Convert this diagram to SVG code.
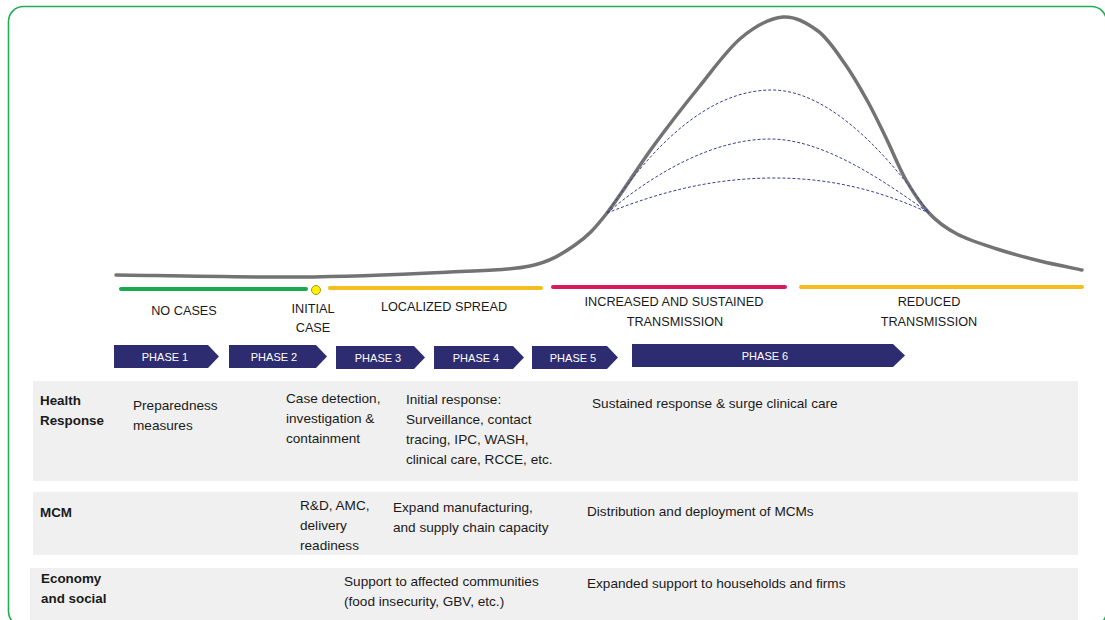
<svg xmlns="http://www.w3.org/2000/svg" width="1105" height="620" viewBox="0 0 1105 620">
<style>
.hdr{font-family:"Liberation Sans",Arial,sans-serif;font-size:12.7px;fill:#1a1a1a;text-anchor:middle}
.ph{font-family:"Liberation Sans",Arial,sans-serif;font-size:11px;fill:#ffffff;text-anchor:middle}
.body{font-family:"Liberation Sans",Arial,sans-serif;font-size:13.6px;fill:#1a1a1a}
.lbl{font-family:"Liberation Sans",Arial,sans-serif;font-size:13.4px;font-weight:bold;fill:#1a1a1a}
.arrow{fill:#2e2c70}
.row{fill:#f0f0f0}
.bar{stroke-width:4;stroke-linecap:round;fill:none}
.dash{fill:none;stroke:#3d3d8f;stroke-width:1;stroke-dasharray:3 2}
</style>
<rect x="8.5" y="6.5" width="1098" height="620" rx="15" fill="#ffffff" stroke="#22ad55" stroke-width="1.6"/>

<g id="rows">
<rect class="row" x="33" y="381" width="1045" height="100"/>
<rect class="row" x="33" y="492" width="1045" height="63"/>
<rect class="row" x="30" y="568" width="1048" height="60"/>
</g>

<g id="curves">
<path d="M116,275 C146.7,275.3 244.3,277.5 300,277 C355.7,276.5 411.7,273.8 450,272 C488.3,270.2 509.2,270.5 530,266 C550.8,261.5 562.2,253.8 575,245 C587.8,236.2 594.2,229.2 607,213 C619.8,196.8 636.7,169 652,148 C667.3,127 684.2,105.3 699,87 C713.8,68.7 727,49.7 741,38 C755,26.3 770.2,18.2 783,17 C795.8,15.8 807.7,23.2 818,31 C828.3,38.8 836.7,52.2 845,64 C853.3,75.8 861,89.3 868,102 C875,114.7 880.7,127 887,140 C893.3,153 899,167.8 906,180 C913,192.2 920.8,204 929,213 C937.2,222 945.7,228 957,234 C968.3,240 983.2,244.5 997,249 C1010.8,253.5 1025.8,257.5 1040,261 C1054.2,264.5 1075,268.5 1082,270" fill="none" stroke="#737373" stroke-width="3.5" stroke-linecap="round"/>
<path class="dash" d="M607,213 C670,120 725,90 772,90 C822,90 878,140 929,213"/>
<path class="dash" d="M607,213 C660,168 718,139 770,139 C822,139 880,178 929,213"/>
<path class="dash" d="M607,213 C660,192 712,178 775,178 C840,178 890,195 929,213"/>
</g>

<g id="stages">
<line class="bar" x1="121" y1="289" x2="306" y2="289" stroke="#1aa94f"/>
<circle cx="316" cy="290" r="4.5" fill="#fff200" stroke="#a8990a" stroke-width="1"/>
<line class="bar" x1="330" y1="288" x2="541" y2="288" stroke="#f6bd1e"/>
<line class="bar" x1="553" y1="287" x2="785" y2="287" stroke="#d81b5b"/>
<line class="bar" x1="801" y1="287" x2="1082" y2="287" stroke="#f6bd1e"/>
<text class="hdr" x="184" y="315">NO CASES</text>
<text class="hdr" x="313" y="313">INITIAL</text>
<text class="hdr" x="313" y="332">CASE</text>
<text class="hdr" x="444" y="311">LOCALIZED SPREAD</text>
<text class="hdr" x="674" y="306">INCREASED AND SUSTAINED</text>
<text class="hdr" x="675" y="326">TRANSMISSION</text>
<text class="hdr" x="929" y="306">REDUCED</text>
<text class="hdr" x="929" y="326">TRANSMISSION</text>
</g>

<g id="phase1"><path class="arrow" d="M114,345 H208 L219,356.5 L208,368 H114 Z"/><text class="ph" x="165" y="361">PHASE 1</text></g>
<g id="phase2"><path class="arrow" d="M229,345 H316 L327,356.5 L316,368 H229 Z"/><text class="ph" x="274" y="361">PHASE 2</text></g>
<g id="phase3"><path class="arrow" d="M336,346 H414 L425,357.5 L414,369 H336 Z"/><text class="ph" x="378" y="362">PHASE 3</text></g>
<g id="phase4"><path class="arrow" d="M434,346 H513 L524,357.5 L513,369 H434 Z"/><text class="ph" x="476" y="362">PHASE 4</text></g>
<g id="phase5"><path class="arrow" d="M532,346 H607 L618,357.5 L607,369 H532 Z"/><text class="ph" x="573" y="362">PHASE 5</text></g>
<g id="phase6"><path class="arrow" d="M632,344 H893 L905,355.5 L893,367 H632 Z"/><text class="ph" x="765" y="360">PHASE 6</text></g>

<g id="health">
<text class="lbl" x="40" y="405">Health</text>
<text class="lbl" x="40" y="425">Response</text>
<text class="body" x="133" y="410">Preparedness</text>
<text class="body" x="133" y="430">measures</text>
<text class="body" x="286" y="403">Case detection,</text>
<text class="body" x="286" y="423">investigation &amp;</text>
<text class="body" x="286" y="443">containment</text>
<text class="body" x="406" y="404">Initial response:</text>
<text class="body" x="406" y="424">Surveillance, contact</text>
<text class="body" x="406" y="444">tracing, IPC, WASH,</text>
<text class="body" x="406" y="464">clinical care, RCCE, etc.</text>
<text class="body" x="592" y="408">Sustained response &amp; surge clinical care</text>
</g>

<g id="mcm">
<text class="lbl" x="40" y="517">MCM</text>
<text class="body" x="300" y="510">R&amp;D, AMC,</text>
<text class="body" x="300" y="530">delivery</text>
<text class="body" x="300" y="550">readiness</text>
<text class="body" x="393" y="512">Expand manufacturing,</text>
<text class="body" x="393" y="532">and supply chain capacity</text>
<text class="body" x="587" y="516">Distribution and deployment of MCMs</text>
</g>

<g id="economy">
<text class="lbl" x="41" y="583">Economy</text>
<text class="lbl" x="41" y="603">and social</text>
<text class="body" x="344" y="586">Support to affected communities</text>
<text class="body" x="344" y="606">(food insecurity, GBV, etc.)</text>
<text class="body" x="587" y="588">Expanded support to households and firms</text>
</g>
</svg>
